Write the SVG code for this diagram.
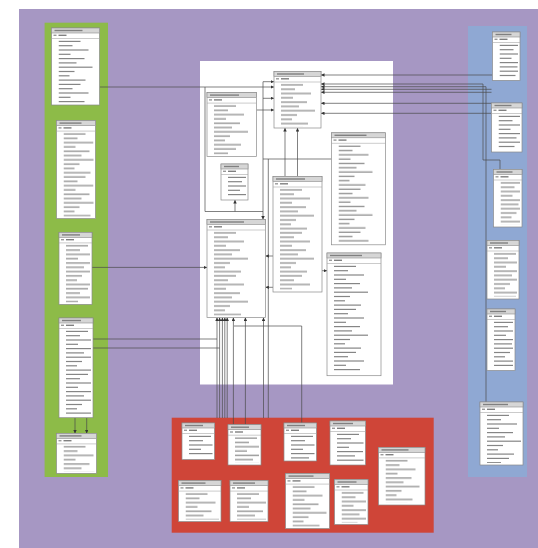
<svg xmlns="http://www.w3.org/2000/svg" width="538" height="548" viewBox="0 0 538 548">
<defs>
<style>
.tb{fill:#fff;stroke:#8a8a8a;stroke-width:.7}
.hd{fill:#d6d6d6;stroke:#8a8a8a;stroke-width:.6}
.tt{fill:#808080}
.pk{fill:#9a9a9a}
.sp{stroke:#a8a8a8;stroke-width:.6}
.rw{fill:url(#rows)}
.cn{fill:none;stroke:#4a4a4a;stroke-width:.7}
.ca{fill:none;stroke:#4a4a4a;stroke-width:.7;marker-start:url(#ah)}
.cb{fill:none;stroke:#4a4a4a;stroke-width:.7;marker-start:url(#ah);marker-end:url(#ah)}
</style>
<marker id="ah" viewBox="0 0 6 6" refX="6" refY="3" markerWidth="3.5" markerHeight="3.5" markerUnits="userSpaceOnUse" orient="auto-start-reverse"><path d="M0,0L6,3L0,6z" fill="#333"/></marker>
<pattern id="rows" patternUnits="userSpaceOnUse" x="7" y="12" width="120" height="43">
<g fill="#858585">
<rect x="0" y="0.8" width="22" height="1.2"/>
<rect x="0" y="5.1" width="14" height="1.2"/>
<rect x="0" y="9.4" width="30" height="1.2"/>
<rect x="0" y="13.7" width="12" height="1.2"/>
<rect x="0" y="18" width="26" height="1.2"/>
<rect x="0" y="22.3" width="18" height="1.2"/>
<rect x="0" y="26.6" width="34" height="1.2"/>
<rect x="0" y="30.9" width="16" height="1.2"/>
<rect x="0" y="35.2" width="11" height="1.2"/>
<rect x="0" y="39.5" width="27" height="1.2"/>
</g>
</pattern>
</defs>

<rect x="0" y="0" width="538" height="548" fill="#ffffff"/>
<rect x="19" y="9" width="519" height="539" fill="#a697c3"/>
<rect x="44.6" y="22.7" width="63.4" height="454.3" fill="#8dbb48"/>
<rect x="468" y="26" width="59" height="451" fill="#8fa8d3"/>
<rect x="171.7" y="417.7" width="262" height="115" fill="#cf4538"/>
<rect x="200" y="61" width="193" height="323.5" fill="#ffffff"/>

<g id="connectors">
<path class="ca" d="M274,87H99.5"/>
<path class="cb" d="M274,81.7H263V219.5"/>
<path class="ca" d="M274,98.3H263"/>
<path class="ca" d="M274,110H256.5"/>
<path class="ca" d="M321,75H492.5"/>
<path class="ca" d="M321,84H483V160H500V169.5"/>
<path class="ca" d="M321,86.7H486V402"/>
<path class="ca" d="M321,89.3H491.5"/>
<path class="ca" d="M321,92.3H491.5"/>
<path class="ca" d="M321,103.3H491.5"/>
<path class="ca" d="M321,113.3H491.5"/>
<path class="ca" d="M285,128V176.5"/>
<path class="ca" d="M297.5,128V176.5"/>
<path class="cn" d="M263,159H331.5"/>
<path class="ca" d="M235,200V211.5"/>
<path class="cn" d="M205,87V211.5H263"/>
<path class="ca" d="M265.5,256H273"/>
<path class="ca" d="M265.5,287.3H273"/>
<path class="ca" d="M327,270.7H322"/>
<path class="cn" d="M268.3,159V418"/>
<path class="ca" d="M217,317.5V418"/>
<path class="ca" d="M219.6,317.5V418"/>
<path class="ca" d="M222.4,317.5V418"/>
<path class="ca" d="M224.8,317.5V418"/>
<path class="ca" d="M227.2,317.5V418"/>
<path class="ca" d="M233.4,317.5V424.7"/>
<path class="ca" d="M245.4,317.5V424.7"/>
<path class="ca" d="M263.5,317.5V418"/>
<path class="cn" d="M234,326H301.7V423"/>
<path class="ca" d="M207,267.4H92"/>
<path class="cn" d="M217,339H93"/>
<path class="cn" d="M219.6,348H93"/>
<path class="ca" d="M75,433.4V417.7"/>
<path class="ca" d="M86.7,433.4V417.7"/>
</g>

<g id="g1" transform="translate(51.5,28)"><rect class="tb" width="48" height="77"/><rect class="hd" width="48" height="5"/><rect class="tt" x="3" y="1.8" width="28" height="1.4"/><rect class="pk" x="2" y="6.6" width="3" height="1.4"/><rect class="tt" x="7" y="6.6" width="8" height="1.4"/><path class="sp" d="M0 10.5H48"/><rect class="rw" x="7" y="12" width="39" height="63"/></g>
<g id="g2" transform="translate(56.5,120.6)"><rect class="tb" width="39" height="98"/><rect class="hd" width="39" height="5"/><rect class="tt" x="3" y="1.8" width="22" height="1.4"/><rect class="pk" x="2" y="6.6" width="3" height="1.4"/><rect class="tt" x="7" y="6.6" width="8" height="1.4"/><path class="sp" d="M0 10.5H39"/><rect class="rw" x="7" y="12" width="30" height="84"/></g>
<g id="g3" transform="translate(59,232.4)"><rect class="tb" width="33" height="72"/><rect class="hd" width="33" height="5"/><rect class="tt" x="3" y="1.8" width="18" height="1.4"/><rect class="pk" x="2" y="6.6" width="3" height="1.4"/><rect class="tt" x="7" y="6.6" width="8" height="1.4"/><path class="sp" d="M0 10.5H33"/><rect class="rw" x="7" y="12" width="24" height="58"/></g>
<g id="g4" transform="translate(59,318)"><rect class="tb" width="34" height="99.7"/><rect class="hd" width="34" height="5"/><rect class="tt" x="3" y="1.8" width="19" height="1.4"/><rect class="pk" x="2" y="6.6" width="3" height="1.4"/><rect class="tt" x="7" y="6.6" width="8" height="1.4"/><path class="sp" d="M0 10.5H34"/><rect class="rw" x="7" y="12" width="25" height="85"/></g>
<g id="g5" transform="translate(56.5,433.4)"><rect class="tb" width="40" height="40"/><rect class="hd" width="40" height="5"/><rect class="tt" x="3" y="1.8" width="22" height="1.4"/><rect class="pk" x="2" y="6.6" width="3" height="1.4"/><rect class="tt" x="7" y="6.6" width="8" height="1.4"/><path class="sp" d="M0 10.5H40"/><rect class="rw" x="7" y="12" width="31" height="26"/></g>

<g id="tA" transform="translate(274,71.5)"><rect class="tb" width="47" height="56.5"/><rect class="hd" width="47" height="5"/><rect class="tt" x="3" y="1.8" width="27" height="1.4"/><rect class="pk" x="2" y="6.6" width="3" height="1.4"/><rect class="tt" x="7" y="6.6" width="8" height="1.4"/><path class="sp" d="M0 10.5H47"/><rect class="rw" x="7" y="12" width="38" height="43"/></g>
<g id="tB" transform="translate(207,92.6)"><rect class="tb" width="49.5" height="64"/><rect class="hd" width="49.5" height="5"/><rect class="tt" x="3" y="1.8" width="29" height="1.4"/><rect class="pk" x="2" y="6.6" width="3" height="1.4"/><rect class="tt" x="7" y="6.6" width="8" height="1.4"/><path class="sp" d="M0 10.5H49.5"/><rect class="rw" x="7" y="12" width="40" height="50"/></g>
<g id="tC" transform="translate(221,164)"><rect class="tb" width="27" height="36"/><rect class="hd" width="27" height="5"/><rect class="tt" x="3" y="1.8" width="15" height="1.4"/><rect class="pk" x="2" y="6.6" width="3" height="1.4"/><rect class="tt" x="7" y="6.6" width="8" height="1.4"/><path class="sp" d="M0 10.5H27"/><rect class="rw" x="7" y="12" width="18" height="22"/></g>
<g id="tD" transform="translate(207,219.5)"><rect class="tb" width="58.5" height="98"/><rect class="hd" width="58.5" height="5"/><rect class="tt" x="3" y="1.8" width="34" height="1.4"/><rect class="pk" x="2" y="6.6" width="3" height="1.4"/><rect class="tt" x="7" y="6.6" width="8" height="1.4"/><path class="sp" d="M0 10.5H58.5"/><rect class="rw" x="7" y="12" width="49" height="84"/></g>
<g id="tE" transform="translate(273,176.5)"><rect class="tb" width="49" height="115.5"/><rect class="hd" width="49" height="5"/><rect class="tt" x="3" y="1.8" width="29" height="1.4"/><rect class="pk" x="2" y="6.6" width="3" height="1.4"/><rect class="tt" x="7" y="6.6" width="8" height="1.4"/><path class="sp" d="M0 10.5H49"/><rect class="rw" x="7" y="12" width="40" height="101"/></g>
<g id="tF" transform="translate(331.5,132.8)"><rect class="tb" width="54" height="112"/><rect class="hd" width="54" height="5"/><rect class="tt" x="3" y="1.8" width="32" height="1.4"/><rect class="pk" x="2" y="6.6" width="3" height="1.4"/><rect class="tt" x="7" y="6.6" width="8" height="1.4"/><path class="sp" d="M0 10.5H54"/><rect class="rw" x="7" y="12" width="45" height="98"/></g>
<g id="tG" transform="translate(327,253)"><rect class="tb" width="54" height="122.7"/><rect class="hd" width="54" height="5"/><rect class="tt" x="3" y="1.8" width="32" height="1.4"/><rect class="pk" x="2" y="6.6" width="3" height="1.4"/><rect class="tt" x="7" y="6.6" width="8" height="1.4"/><path class="sp" d="M0 10.5H54"/><rect class="rw" x="7" y="12" width="45" height="108"/></g>

<g id="b1" transform="translate(492.5,32)"><rect class="tb" width="27.5" height="48.4"/><rect class="hd" width="27.5" height="5"/><rect class="tt" x="3" y="1.8" width="16" height="1.4"/><rect class="pk" x="2" y="6.6" width="3" height="1.4"/><rect class="tt" x="7" y="6.6" width="8" height="1.4"/><path class="sp" d="M0 10.5H27.5"/><rect class="rw" x="7" y="12" width="18.5" height="34"/></g>
<g id="b2" transform="translate(491.5,103)"><rect class="tb" width="30.5" height="49"/><rect class="hd" width="30.5" height="5"/><rect class="tt" x="3" y="1.8" width="17" height="1.4"/><rect class="pk" x="2" y="6.6" width="3" height="1.4"/><rect class="tt" x="7" y="6.6" width="8" height="1.4"/><path class="sp" d="M0 10.5H30.5"/><rect class="rw" x="7" y="12" width="21.5" height="35"/></g>
<g id="b3" transform="translate(493.5,169.5)"><rect class="tb" width="28.5" height="57.5"/><rect class="hd" width="28.5" height="5"/><rect class="tt" x="3" y="1.8" width="16" height="1.4"/><rect class="pk" x="2" y="6.6" width="3" height="1.4"/><rect class="tt" x="7" y="6.6" width="8" height="1.4"/><path class="sp" d="M0 10.5H28.5"/><rect class="rw" x="7" y="12" width="19.5" height="43"/></g>
<g id="b4" transform="translate(487,240.5)"><rect class="tb" width="32" height="58.5"/><rect class="hd" width="32" height="5"/><rect class="tt" x="3" y="1.8" width="18" height="1.4"/><rect class="pk" x="2" y="6.6" width="3" height="1.4"/><rect class="tt" x="7" y="6.6" width="8" height="1.4"/><path class="sp" d="M0 10.5H32"/><rect class="rw" x="7" y="12" width="23" height="44"/></g>
<g id="b5" transform="translate(487,309)"><rect class="tb" width="28" height="61.5"/><rect class="hd" width="28" height="5"/><rect class="tt" x="3" y="1.8" width="16" height="1.4"/><rect class="pk" x="2" y="6.6" width="3" height="1.4"/><rect class="tt" x="7" y="6.6" width="8" height="1.4"/><path class="sp" d="M0 10.5H28"/><rect class="rw" x="7" y="12" width="19" height="47"/></g>
<g id="b6" transform="translate(480,402)"><rect class="tb" width="43" height="63"/><rect class="hd" width="43" height="5"/><rect class="tt" x="3" y="1.8" width="25" height="1.4"/><rect class="pk" x="2" y="6.6" width="3" height="1.4"/><rect class="tt" x="7" y="6.6" width="8" height="1.4"/><path class="sp" d="M0 10.5H43"/><rect class="rw" x="7" y="12" width="34" height="49"/></g>

<g id="r1" transform="translate(182,423)"><rect class="tb" width="32.5" height="36.6"/><rect class="hd" width="32.5" height="5"/><rect class="tt" x="3" y="1.8" width="18" height="1.4"/><rect class="pk" x="2" y="6.6" width="3" height="1.4"/><rect class="tt" x="7" y="6.6" width="8" height="1.4"/><path class="sp" d="M0 10.5H32.5"/><rect class="rw" x="7" y="12" width="23.5" height="22"/></g>
<g id="r2" transform="translate(228,424.7)"><rect class="tb" width="33" height="40.3"/><rect class="hd" width="33" height="5"/><rect class="tt" x="3" y="1.8" width="18" height="1.4"/><rect class="pk" x="2" y="6.6" width="3" height="1.4"/><rect class="tt" x="7" y="6.6" width="8" height="1.4"/><path class="sp" d="M0 10.5H33"/><rect class="rw" x="7" y="12" width="24" height="26"/></g>
<g id="r3" transform="translate(284,423)"><rect class="tb" width="32.5" height="38"/><rect class="hd" width="32.5" height="5"/><rect class="tt" x="3" y="1.8" width="18" height="1.4"/><rect class="pk" x="2" y="6.6" width="3" height="1.4"/><rect class="tt" x="7" y="6.6" width="8" height="1.4"/><path class="sp" d="M0 10.5H32.5"/><rect class="rw" x="7" y="12" width="23.5" height="24"/></g>
<g id="r4" transform="translate(330,421)"><rect class="tb" width="35.5" height="44"/><rect class="hd" width="35.5" height="5"/><rect class="tt" x="3" y="1.8" width="20" height="1.4"/><rect class="pk" x="2" y="6.6" width="3" height="1.4"/><rect class="tt" x="7" y="6.6" width="8" height="1.4"/><path class="sp" d="M0 10.5H35.5"/><rect class="rw" x="7" y="12" width="26.5" height="30"/></g>
<g id="r5" transform="translate(378.5,447.4)"><rect class="tb" width="46.5" height="57.6"/><rect class="hd" width="46.5" height="5"/><rect class="tt" x="3" y="1.8" width="27" height="1.4"/><rect class="pk" x="2" y="6.6" width="3" height="1.4"/><rect class="tt" x="7" y="6.6" width="8" height="1.4"/><path class="sp" d="M0 10.5H46.5"/><rect class="rw" x="7" y="12" width="37.5" height="43"/></g>
<g id="r6" transform="translate(178.5,480.6)"><rect class="tb" width="42.5" height="41"/><rect class="hd" width="42.5" height="5"/><rect class="tt" x="3" y="1.8" width="24" height="1.4"/><rect class="pk" x="2" y="6.6" width="3" height="1.4"/><rect class="tt" x="7" y="6.6" width="8" height="1.4"/><path class="sp" d="M0 10.5H42.5"/><rect class="rw" x="7" y="12" width="33.5" height="27"/></g>
<g id="r7" transform="translate(230,480.6)"><rect class="tb" width="38" height="41"/><rect class="hd" width="38" height="5"/><rect class="tt" x="3" y="1.8" width="22" height="1.4"/><rect class="pk" x="2" y="6.6" width="3" height="1.4"/><rect class="tt" x="7" y="6.6" width="8" height="1.4"/><path class="sp" d="M0 10.5H38"/><rect class="rw" x="7" y="12" width="29" height="27"/></g>
<g id="r8" transform="translate(285.5,473.6)"><rect class="tb" width="44" height="55"/><rect class="hd" width="44" height="5"/><rect class="tt" x="3" y="1.8" width="25" height="1.4"/><rect class="pk" x="2" y="6.6" width="3" height="1.4"/><rect class="tt" x="7" y="6.6" width="8" height="1.4"/><path class="sp" d="M0 10.5H44"/><rect class="rw" x="7" y="12" width="35" height="41"/></g>
<g id="r9" transform="translate(334.5,479.5)"><rect class="tb" width="33.5" height="45"/><rect class="hd" width="33.5" height="5"/><rect class="tt" x="3" y="1.8" width="19" height="1.4"/><rect class="pk" x="2" y="6.6" width="3" height="1.4"/><rect class="tt" x="7" y="6.6" width="8" height="1.4"/><path class="sp" d="M0 10.5H33.5"/><rect class="rw" x="7" y="12" width="24.5" height="31"/></g>
</svg>
